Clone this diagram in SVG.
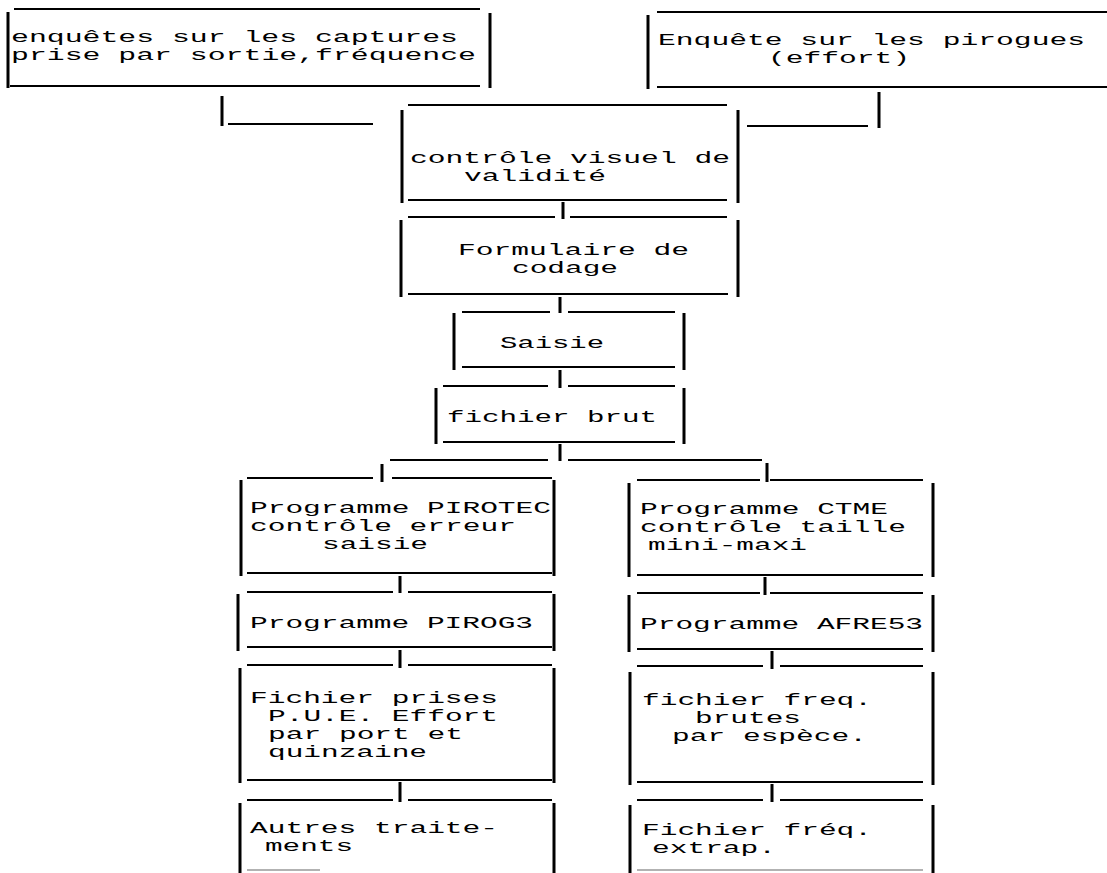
<svg xmlns="http://www.w3.org/2000/svg" width="1107" height="873" viewBox="0 0 1107 873">
<style>
.h{stroke:#000;stroke-width:2;fill:none}
.v{stroke:#000;stroke-width:3;fill:none}
.f{stroke:#999;stroke-width:1.5;fill:none}
text{font-family:"Liberation Mono","DejaVu Sans Mono",monospace;font-size:16px;fill:#000}
</style>
<rect width="1107" height="873" fill="#fff"/>
<g id="n1">
<path class="h" d="M14 9H480M10 86H480"/>
<path class="v" d="M8 12V88M490 13V88"/>
<text x="11" y="42" textLength="447" lengthAdjust="spacingAndGlyphs">enquêtes sur les captures</text>
<text x="11" y="60" textLength="465" lengthAdjust="spacingAndGlyphs">prise par sortie,fréquence</text>
</g>
<g id="n2">
<path class="h" d="M657 12H1107M657 87H1107"/>
<path class="v" d="M648 15V89"/>
<text x="658" y="45" textLength="427" lengthAdjust="spacingAndGlyphs">Enquête sur les pirogues</text>
<text x="768" y="63" textLength="142" lengthAdjust="spacingAndGlyphs">(effort)</text>
</g>
<g id="n3">
<path class="h" d="M408 105H727M408 200H727"/>
<path class="v" d="M402 110V203M738 110V203"/>
<text x="410" y="163" textLength="320" lengthAdjust="spacingAndGlyphs">contrôle visuel de</text>
<text x="464" y="181" textLength="142" lengthAdjust="spacingAndGlyphs">validité</text>
</g>
<g id="n4">
<path class="h" d="M408 217H555M570 217H727M408 294H728"/>
<path class="v" d="M401 220V297M738 220V297"/>
<text x="458" y="255" textLength="231" lengthAdjust="spacingAndGlyphs">Formulaire de</text>
<text x="512" y="273" textLength="106" lengthAdjust="spacingAndGlyphs">codage</text>
</g>
<g id="n5">
<path class="h" d="M462 312H550M568 312H675M462 367H675"/>
<path class="v" d="M454 313V370M684 313V370"/>
<text x="500" y="348" textLength="104" lengthAdjust="spacingAndGlyphs">Saisie</text>
</g>
<g id="n6">
<path class="h" d="M443 386H548M568 386H675M443 442H675"/>
<path class="v" d="M436 388V444M684 388V444"/>
<text x="447" y="422" textLength="210" lengthAdjust="spacingAndGlyphs">fichier brut</text>
</g>
<g id="n7">
<path class="h" d="M247 478H373M392 478H552M247 573H552"/>
<path class="v" d="M241 480V576M554 480V576"/>
<text x="250" y="513" textLength="301" lengthAdjust="spacingAndGlyphs">Programme PIROTEC</text>
<text x="250" y="531" textLength="266" lengthAdjust="spacingAndGlyphs">contrôle erreur</text>
<text x="322" y="549" textLength="106" lengthAdjust="spacingAndGlyphs">saisie</text>
</g>
<g id="n8">
<path class="h" d="M247 592H393M408 592H552M247 647H552"/>
<path class="v" d="M238 594V651M554 594V651"/>
<text x="250" y="628" textLength="283" lengthAdjust="spacingAndGlyphs">Programme PIROG3</text>
</g>
<g id="n9">
<path class="h" d="M247 665H393M408 665H552M247 780H552"/>
<path class="v" d="M240 668V783M554 668V783"/>
<text x="250" y="703" textLength="248" lengthAdjust="spacingAndGlyphs">Fichier prises</text>
<text x="268" y="721" textLength="230" lengthAdjust="spacingAndGlyphs">P.U.E. Effort</text>
<text x="268" y="739" textLength="195" lengthAdjust="spacingAndGlyphs">par port et</text>
<text x="268" y="757" textLength="159" lengthAdjust="spacingAndGlyphs">quinzaine</text>
</g>
<g id="n10">
<path class="h" d="M247 800H393M408 800H552"/>
<path class="f" d="M247 870H320"/>
<path class="v" d="M240 803V873M554 803V873"/>
<text x="250" y="833" textLength="248" lengthAdjust="spacingAndGlyphs">Autres traite-</text>
<text x="265" y="851" textLength="88" lengthAdjust="spacingAndGlyphs">ments</text>
</g>
<g id="n11">
<path class="h" d="M637 480H760M770 480H923M637 575H923"/>
<path class="v" d="M629 483V577M933 483V577"/>
<text x="640" y="514" textLength="248" lengthAdjust="spacingAndGlyphs">Programme CTME</text>
<text x="640" y="532" textLength="266" lengthAdjust="spacingAndGlyphs">contrôle taille</text>
<text x="648" y="550" textLength="159" lengthAdjust="spacingAndGlyphs">mini-maxi</text>
</g>
<g id="n12">
<path class="h" d="M637 593H760M770 593H923M637 649H923"/>
<path class="v" d="M629 595V652M933 595V652"/>
<text x="640" y="629" textLength="283" lengthAdjust="spacingAndGlyphs">Programme AFRE53</text>
</g>
<g id="n13">
<path class="h" d="M637 666H763M780 666H923M637 782H923"/>
<path class="v" d="M630 672V785M933 672V785"/>
<text x="642" y="705" textLength="230" lengthAdjust="spacingAndGlyphs">fichier freq.</text>
<text x="695" y="723" textLength="106" lengthAdjust="spacingAndGlyphs">brutes</text>
<text x="672" y="741" textLength="195" lengthAdjust="spacingAndGlyphs">par espèce.</text>
</g>
<g id="n14">
<path class="h" d="M637 800H763M780 800H923"/>
<path class="f" d="M637 870H923"/>
<path class="v" d="M630 805V873M933 805V873"/>
<text x="642" y="835" textLength="230" lengthAdjust="spacingAndGlyphs">Fichier fréq.</text>
<text x="652" y="853" textLength="124" lengthAdjust="spacingAndGlyphs">extrap.</text>
</g>
<g id="connectors">
<path class="v" d="M222 96V126M879 92V128"/>
<path class="h" d="M228 124H373M747 126H868"/>
<path class="v" d="M563 202V219M560 297V313M560 370V388M560 444V461"/>
<path class="h" d="M390 460H548M568 460H762"/>
<path class="v" d="M382 464V482M767 463V482"/>
<path class="v" d="M400 576V593M400 650V668M400 782V802"/>
<path class="v" d="M765 577V595M772 651V669M772 784V802"/>
</g>
</svg>
